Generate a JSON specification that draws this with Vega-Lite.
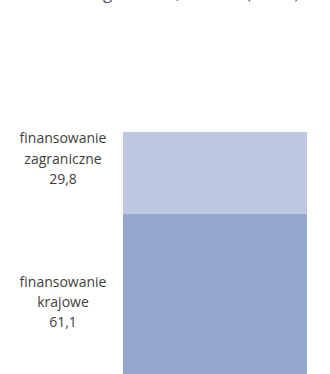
{
  "$schema": "https://vega.github.io/schema/vega-lite/v6.json",
  "width": 230,
  "height": 242,
  "autosize": "none",
  "padding": {"left": 100, "top": 132, "right": 0, "bottom": 0},
  "background": "white",
  "config": {"view": {"stroke": null}},
  "title": {"text": "ogółem 90,9 mln zł (100%)", "orient": "top", "anchor": "middle", "offset": 116, "baseline": "alphabetic", "fontSize": 17, "font": "Open Sans", "fontWeight": "normal", "color": "#595959", "dx": -19},
  "data": {"values": [
    {"rok": "2016", "zrodlo": "finansowanie krajowe", "wartosc": 61.1, "kolejnosc": 1},
    {"rok": "2016", "zrodlo": "finansowanie zagraniczne", "wartosc": 29.8, "kolejnosc": 2}
  ]},
  "transform": [
    {"stack": "wartosc", "groupby": ["rok"], "sort": [{"field": "kolejnosc"}], "as": ["y0", "y1"]},
    {"calculate": "(datum.y0 + datum.y1) / 2", "as": "ymid"},
    {"calculate": "datum.zrodlo + ' ' + replace(format(datum.wartosc, '.1f'), '.', ',')", "as": "etykieta"}
  ],
  "encoding": {
    "x": {"field": "rok", "type": "nominal", "scale": {"paddingInner": 0, "paddingOuter": 0.125}, "axis": null}
  },
  "layer": [
    {
      "mark": {"type": "bar", "clip": true},
      "encoding": {
        "y": {"field": "y0", "type": "quantitative", "scale": {"domain": [3, 90.9], "zero": false, "nice": false}, "axis": null},
        "y2": {"field": "y1"},
        "color": {"field": "zrodlo", "type": "nominal", "scale": {"domain": ["finansowanie krajowe", "finansowanie zagraniczne"], "range": ["#95A9D0", "#BBC8E0"]}, "legend": null}
      }
    },
    {
      "transform": [{"filter": "datum.kolejnosc == 2"}],
      "mark": {"type": "text", "lineBreak": " ", "lineHeight": 20.5, "baseline": "middle", "align": "center", "font": "Open Sans", "fontSize": 14, "color": "#404040", "dx": -152, "dy": -34},
      "encoding": {
        "y": {"field": "ymid", "type": "quantitative"},
        "text": {"field": "etykieta"}
      }
    },
    {
      "transform": [{"filter": "datum.kolejnosc == 1"}],
      "mark": {"type": "text", "lineBreak": " ", "lineHeight": 20, "baseline": "middle", "align": "center", "font": "Open Sans", "fontSize": 14, "color": "#404040", "dx": -152, "dy": -15},
      "encoding": {
        "y": {"field": "ymid", "type": "quantitative"},
        "text": {"field": "etykieta"}
      }
    }
  ]
}
